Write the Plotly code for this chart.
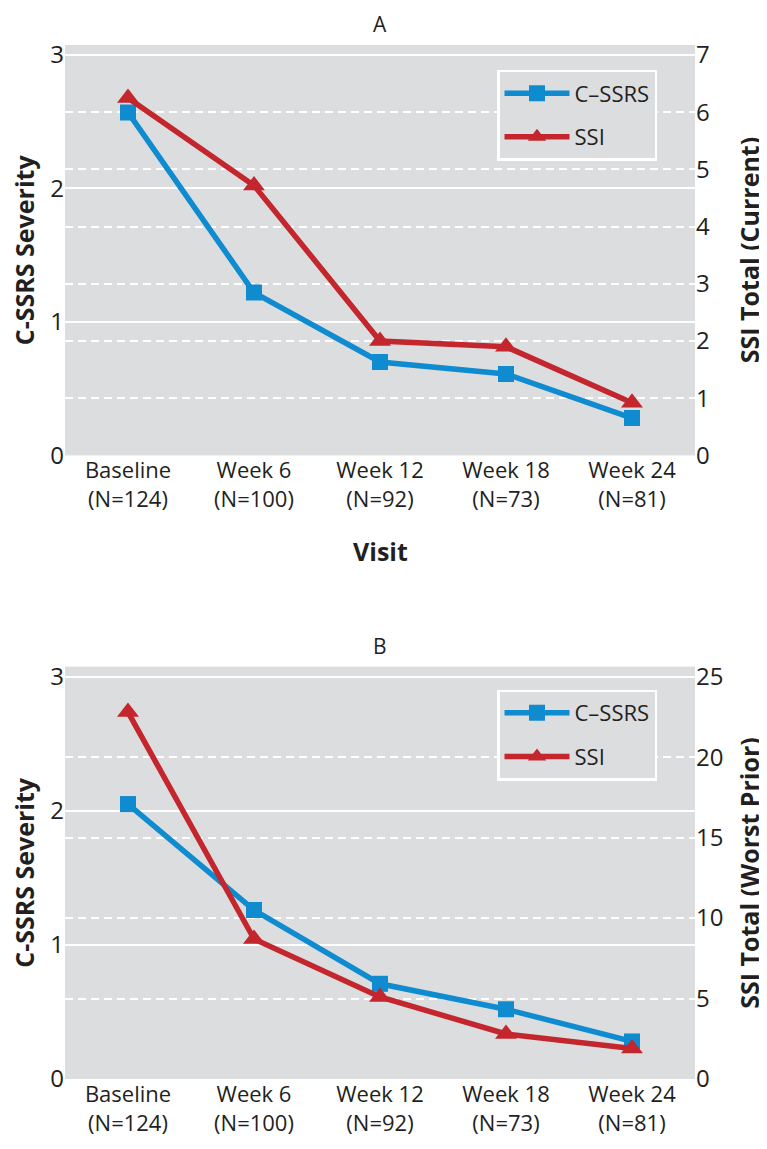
import plotly.graph_objects as go

visits = ["Baseline", "Week 6", "Week 12", "Week 18", "Week 24"]
n_counts = ["N=124", "N=100", "N=92", "N=73", "N=81"]

# Panel A
cssrs_a = [2.57, 1.22, 0.70, 0.61, 0.28]
ssi_a = [6.25, 4.72, 2.0, 1.9, 0.92]
# Panel B
cssrs_b = [2.05, 1.26, 0.71, 0.52, 0.28]
ssi_b = [22.8, 8.7, 5.1, 2.8, 1.9]

left_ticks = [0, 1, 2, 3]
right_ticks_a = [0, 1, 2, 3, 4, 5, 6, 7]
right_ticks_b = [0, 5, 10, 15, 20, 25]

BLUE = "#0f8bd0"
RED = "#c3262d"
BG = "#dcdddf"
TXT = "#231f20"
FAM = "Open Sans, Noto Sans, sans-serif"
YTICKFONT = dict(family=FAM, size=24, color=TXT)
XTICKFONT = dict(family=FAM, size=22, color=TXT)
LEGFONT = dict(family=FAM, size=22, color=TXT)
TITLEFONT = dict(family=FAM, size=25, color=TXT, weight="bold")

xidx = list(range(len(visits)))
ticktext = [f"{v}<br>({n})" for v, n in zip(visits, n_counts)]

fig = go.Figure()

def add(x, y, name, color, symbol, size, xa, ya, legend, rank):
    fig.add_trace(go.Scatter(
        x=x, y=y, name=name, mode="lines+markers",
        line=dict(color=color, width=5.5),
        marker=dict(symbol=symbol, size=size, color=color),
        xaxis=xa, yaxis=ya, legend=legend, legendrank=rank,
        legendgroup=name + legend,
    ))

# Panel A: red below blue
add(xidx, ssi_a, "SSI", RED, "triangle-up", 19, "x", "y2", "legend", 2)
add(xidx, cssrs_a, "C\u2013SSRS", BLUE, "square", 16, "x", "y", "legend", 1)
# Panel B: blue below red
add(xidx, cssrs_b, "C\u2013SSRS", BLUE, "square", 16, "x2", "y3", "legend2", 1)
add(xidx, ssi_b, "SSI", RED, "triangle-up", 19, "x2", "y4", "legend2", 2)

# the page body adds an 8px offset; targets below are reference pixels
OFF = 8
W, H = 767 - OFF, 1149 - OFF
L, R, T, B = 65 - OFF, 72, 45 - OFF, 66
pw = W - L - R
ph = H - T - B

def px_x(x):
    return (x - OFF - L) / pw

def px_y(y):
    return 1 - (y - OFF - T) / ph

dA = [px_y(457), 1.0]
dB = [0.0, px_y(669)]

lmax = 3.075
DASH = "8px,5px"
xcommon = dict(
    range=[-0.5, 4.5], tickvals=xidx, ticktext=ticktext, showgrid=False,
    zeroline=False, showline=False, ticks="", tickfont=XTICKFONT,
)
left_common = dict(range=[0, lmax], tickvals=left_ticks, showgrid=True,
                   gridcolor="white", gridwidth=2, zeroline=False, ticks="",
                   tickfont=YTICKFONT)
right_common = dict(side="right", showgrid=True, gridcolor="white", gridwidth=1.6,
                    griddash=DASH, zeroline=False, ticks="", tickfont=YTICKFONT)

leg_common = dict(xanchor="left", yanchor="top", bgcolor=BG, bordercolor="white",
                  borderwidth=2.5, font=LEGFONT, tracegroupgap=12,
                  traceorder="grouped", itemwidth=65, entrywidth=164)

def vtitle(text, x, dom):
    return dict(text=text, x=px_x(x), y=(dom[0] + dom[1]) / 2, xref="paper",
                yref="paper", textangle=-90, showarrow=False, xanchor="center",
                yanchor="middle", font=TITLEFONT)

def ptitle(text, dom):
    return dict(text=text, x=0.5, y=dom[1], xref="paper", yref="paper",
                xanchor="center", yanchor="middle", yshift=21, showarrow=False,
                font=dict(family=FAM, size=21, color=TXT))

fig.update_layout(
    width=W, height=H, margin=dict(l=L, r=R, t=T, b=B),
    paper_bgcolor="white", plot_bgcolor=BG, showlegend=True,
    xaxis=dict(**xcommon, anchor="y", domain=[0, 1]),
    xaxis2=dict(**xcommon, anchor="y3", domain=[0, 1]),
    yaxis=dict(**left_common, domain=dA, anchor="x"),
    yaxis2=dict(**right_common, overlaying="y", anchor="x",
                range=[0, lmax * 7 / 3], tickvals=right_ticks_a),
    yaxis3=dict(**left_common, domain=dB, anchor="x2"),
    yaxis4=dict(**right_common, overlaying="y3", anchor="x2",
                range=[0, lmax * 25 / 3], tickvals=right_ticks_b),
    legend=dict(**leg_common, x=px_x(497), y=px_y(70)),
    legend2=dict(**leg_common, x=px_x(497), y=px_y(692)),
    annotations=[
        ptitle("A", dA),
        ptitle("B", dB),
        vtitle("C-SSRS Severity", 24, dA),
        vtitle("SSI Total (Current)", 749, dA),
        vtitle("C-SSRS Severity", 24, dB),
        vtitle("SSI Total (Worst Prior)", 749, dB),
        dict(text="Visit", x=0.5, y=px_y(553), xref="paper", yref="paper",
             xanchor="center", yanchor="middle", showarrow=False, font=TITLEFONT),
    ],
)

fig.write_html("out.html")
